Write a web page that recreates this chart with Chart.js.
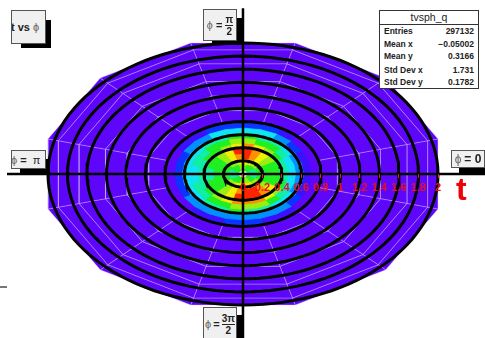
<!DOCTYPE html>
<html>
<head>
<meta charset="utf-8">
<script src="https://cdn.jsdelivr.net/npm/chart.js@4"></script>
<style>
  html, body { margin: 0; padding: 0; background: #fff; }
  #wrap { position: relative; width: 485px; height: 338px; overflow: hidden; font-family: "Liberation Sans", sans-serif; color: #222; }
  canvas { position: absolute; left: 0; top: 0; filter: blur(0.4px); }
  .shadow { position: absolute; background: #000; }
  .label { position: absolute; box-sizing: border-box; background: #f0f0f0; border: 1px solid #555; font-weight: bold; font-size: 11px; white-space: nowrap; overflow: hidden; display: flex; align-items: center; justify-content: center; gap: 3px; }
  .label i { font-style: normal; font-weight: normal; color: #666; }
  .frac { display: inline-flex; flex-direction: column; align-items: center; line-height: 11px; font-size: 10px; }
  .frac b:first-child { border-bottom: 1px solid #222; }
  #stats { position: absolute; left: 379px; top: 10px; width: 100px; height: 79px; box-sizing: border-box; background: #fff; border: 1px solid #333; font-size: 8.5px; font-weight: bold; }
  #stats .title { height: 13px; line-height: 13px; font-size: 10.5px; font-weight: normal; text-align: center; border-bottom: 1px solid #333; }
  #stats .row { position: absolute; left: 4px; right: 4px; display: flex; justify-content: space-between; line-height: 10px; }
  #axisName { position: absolute; left: 456px; top: 171px; color: #f00000; font-size: 32px; line-height: 36px; font-weight: bold; }
  #stray { position: absolute; left: 0; top: 286px; width: 7px; height: 2px; background: #777; }
</style>
</head>
<body>
<div id="wrap">
  <canvas id="polar-chart-canvas" width="485" height="338"></canvas>

  <div class="shadow" style="left:21px;top:20px;width:30px;height:28px"></div>
  <div class="label" style="left:11px;top:10px;width:35px;height:34px;justify-content:flex-start;padding-left:0"><span style="margin-left:-1px">t vs</span><i>&#981;</i></div>

  <div class="shadow" style="left:212px;top:18px;width:31px;height:27px"></div>
  <div class="label" style="left:203px;top:9px;width:34px;height:32px"><i>&#981;</i>=<span class="frac"><b>&#960;</b><b>2</b></span></div>

  <div class="shadow" style="left:459px;top:157px;width:26px;height:18px"></div>
  <div class="label" style="left:451px;top:150px;width:34px;height:18px;font-size:12px"><i>&#981;</i>= 0</div>

  <div class="shadow" style="left:20px;top:159px;width:30px;height:16px"></div>
  <div class="label" style="left:11px;top:150px;width:35px;height:19px;justify-content:flex-start"><i style="margin-left:-1px">&#981;</i>=&nbsp;<span style="font-weight:normal">&#960;</span></div>

  <div class="shadow" style="left:237px;top:315px;width:6px;height:23px"></div>
  <div class="label" style="left:203px;top:307px;width:34px;height:34px;gap:2px"><i>&#981;</i>=<span class="frac"><b>3&#960;</b><b>2</b></span></div>

  <div id="stats">
    <div class="title">tvsph_q</div>
    <div class="row" style="top:15px"><span>Entries</span><span>297132</span></div>
    <div class="row" style="top:28px"><span>Mean x</span><span>&minus;0.05002</span></div>
    <div class="row" style="top:40px"><span>Mean y</span><span>0.3166</span></div>
    <div class="row" style="top:54px"><span>Std Dev x</span><span>1.731</span></div>
    <div class="row" style="top:66px"><span>Std Dev y</span><span>0.1782</span></div>
  </div>

  <div id="axisName">t</div>
  <div id="stray"></div>
</div>
<script>
// colour levels, low to high
const palette = [
  "#5e06fa", "#3c10ff", "#0a34ff", "#0090ff", "#10e4f4", "#10f0a0",
  "#20f020", "#98f010", "#f0f000", "#ff9000", "#ff2400", "#f4fff0",
];

// heart of the histogram: 24 sectors of 15 degrees, counter clockwise from phi = 0
const innerEdges = [0, 0.04, 0.14, 0.22, 0.3, 0.38, 0.46, 0.54, 0.62, 0.7, 0.8];
const innerPhi = [0, 15, 30, 45, 60, 75, 90, 105, 120, 135, 150, 165, 180, 195, 210, 225, 240, 255, 270, 285, 300, 315, 330, 345, 360];
const innerLevels = [
  [11, 11, 11, 11, 11, 11, 11, 11, 11, 11, 11, 11, 11, 11, 11, 11, 11, 11, 11, 11, 11, 11, 11, 11],
  [5, 5, 6, 6, 6, 7, 7, 6, 6, 6, 5, 5, 5, 5, 6, 6, 6, 7, 7, 7, 6, 6, 5, 5],
  [6, 6, 7, 7, 8, 8, 8, 7, 7, 6, 6, 6, 6, 6, 7, 7, 8, 8, 8, 8, 7, 7, 6, 6],
  [6, 6, 7, 8, 9, 10, 9, 8, 7, 6, 6, 6, 6, 6, 6, 7, 8, 9, 10, 10, 9, 7, 6, 6],
  [6, 6, 7, 8, 9, 10, 10, 8, 7, 6, 6, 5, 5, 6, 6, 7, 8, 10, 10, 10, 9, 8, 6, 6],
  [5, 5, 6, 7, 8, 9, 8, 7, 6, 6, 5, 5, 5, 5, 6, 7, 8, 9, 9, 9, 8, 7, 6, 5],
  [4, 4, 5, 6, 6, 7, 7, 6, 6, 5, 5, 4, 4, 5, 5, 6, 6, 7, 7, 7, 6, 5, 4, 4],
  [3, 3, 4, 5, 5, 6, 6, 5, 5, 4, 4, 4, 4, 4, 4, 5, 5, 6, 5, 5, 4, 4, 3, 3],
  [1, 1, 2, 3, 4, 4, 4, 4, 3, 3, 2, 2, 2, 2, 3, 3, 3, 3, 3, 3, 3, 2, 1, 1],
  [0, 0, 0, 1, 2, 2, 2, 2, 1, 1, 0, 0, 0, 0, 0, 1, 1, 2, 2, 1, 1, 0, 0, 0],
];

// coarse purple bins that fill the rest of the disc
const outerEdges = [0, 1.0, 1.23, 1.46, 1.74, 1.96, 2.07];
const outerPhi = [15, 45, 75, 105, 135, 165, 195, 225, 255, 285, 315, 345, 375];

const ringRadii = [0.2, 0.4, 0.6, 0.8, 1, 1.2, 1.4, 1.6, 1.8, 2];
const radialTicks = [0, 0.2, 0.4, 0.6, 0.8, 1, 1.2, 1.4, 1.6, 1.8, 2];

const toXY = (t, deg) => {
  const a = (deg * Math.PI) / 180;
  return { x: t * Math.cos(a), y: t * Math.sin(a) };
};

const cellDataset = (t0, t1, p0, p1, color, edge, edgeWidth) => ({
  data: [toXY(t0, p0), toXY(t1, p0), toXY(t1, p1), toXY(t0, p1), toXY(t0, p0)],
  showLine: true,
  backgroundColor: color,
  borderColor: edge,
  borderWidth: edgeWidth,
  fill: "shape",
  tension: 0,
  pointRadius: 0,
});

const lineDataset = (data, width) => ({
  data,
  showLine: true,
  borderColor: "#000",
  borderWidth: width,
  fill: false,
  tension: 0,
  pointRadius: 0,
});

const datasets = [];

// the first dataset is painted last, so axes and rings go in first
datasets.push(lineDataset([{ x: -2.42, y: 0 }, { x: 2.49, y: 0 }], 2.5));
datasets.push(lineDataset([{ x: 0, y: 2.53 }, { x: 0, y: -2.52 }], 2.5));

ringRadii.forEach((t) => {
  const points = [];
  for (let deg = 0; deg <= 360; deg += 3) points.push(toXY(t, deg));
  datasets.push(lineDataset(points, 3));
});

innerLevels.forEach((row, r) => {
  row.forEach((level, s) => {
    const color = palette[level];
    datasets.push(cellDataset(innerEdges[r], innerEdges[r + 1], innerPhi[s], innerPhi[s + 1], color, color, 0.8));
  });
});

for (let r = 0; r < outerEdges.length - 1; r++) {
  for (let s = 0; s < outerPhi.length - 1; s++) {
    datasets.push(cellDataset(outerEdges[r], outerEdges[r + 1], outerPhi[s], outerPhi[s + 1], palette[0], "rgba(214,190,255,0.45)", 0.8));
  }
}

new Chart(document.getElementById("polar-chart-canvas").getContext("2d"), {
  type: "scatter",
  data: { datasets },
  options: {
    responsive: false,
    animation: false,
    layout: { padding: 0 },
    plugins: {
      legend: { display: false },
      tooltip: { enabled: false },
    },
    scales: {
      x: {
        type: "linear",
        min: -2.492,
        max: 2.482,
        position: { y: 0 },
        border: { display: false },
        grid: { drawOnChartArea: false, color: "#e02020", tickLength: 4, z: 1 },
        afterBuildTicks: (scale) => {
          scale.ticks = radialTicks.map((value) => ({ value }));
        },
        ticks: {
          z: 1,
          autoSkip: false,
          maxRotation: 0,
          padding: 3,
          color: "#e81020",
          font: { family: "Liberation Sans", size: 11, weight: "bold" },
          callback: (value) => String(value),
        },
      },
      y: {
        type: "linear",
        display: false,
        min: -2.504,
        max: 2.656,
      },
    },
  },
});
</script>
</body>
</html>
